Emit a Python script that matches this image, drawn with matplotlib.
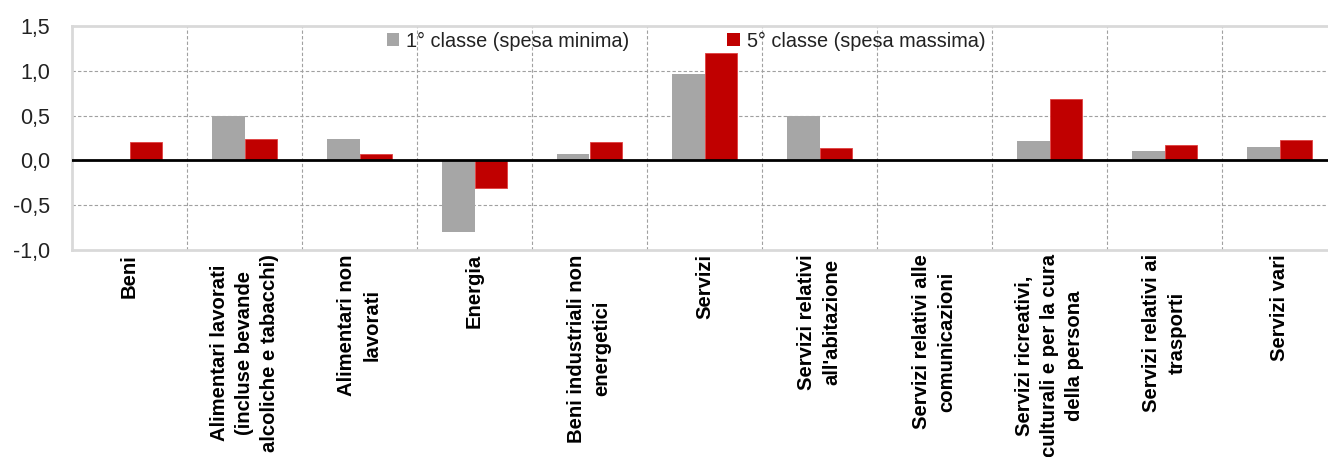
import matplotlib
matplotlib.use("Agg")
import matplotlib.pyplot as plt
import numpy as np
from matplotlib.patches import Patch

categories = [
    "Beni",
    "Alimentari lavorati\n(incluse bevande\nalcoliche e tabacchi)",
    "Alimentari non\nlavorati",
    "Energia",
    "Beni industriali non\nenergetici",
    "Servizi",
    "Servizi relativi\nall'abitazione",
    "Servizi relativi alle\ncomunicazioni",
    "Servizi ricreativi,\nculturali e per la cura\ndella persona",
    "Servizi relativi ai\ntrasporti",
    "Servizi vari",
]
classe1 = [0.0, 0.50, 0.24, -0.80, 0.07, 0.96, 0.50, 0.0, 0.22, 0.11, 0.15]
classe5 = [0.20, 0.24, 0.07, -0.31, 0.21, 1.20, 0.14, 0.0, 0.68, 0.17, 0.23]
series_names = ["1° classe (spesa minima)", "5° classe (spesa massima)"]
yticks = [-1.0, -0.5, 0.0, 0.5, 1.0, 1.5]
ytick_labels = ["-1,0", "-0,5", "0,0", "0,5", "1,0", "1,5"]

GRAY = "#a6a6a6"
RED = "#c00000"
fam = ["Liberation Sans", "DejaVu Sans"]

fig = plt.figure(figsize=(13.28, 4.57), dpi=100)
ax = fig.add_axes([72 / 1328, 1 - 250 / 457, (1337 - 72) / 1328, (250 - 26) / 457])

x = np.arange(len(categories))
w = 0.285
ax.bar(x - w / 2, classe1, width=w, color=GRAY, zorder=3)
ax.bar(x + w / 2, classe5, width=w, color=RED, edgecolor="#e04040", linewidth=0.6, zorder=3)
ax.axhline(0, color="black", lw=2, zorder=4)

ax.set_xlim(-0.5, len(categories) - 0.5)
ax.set_ylim(-1.0, 1.5)
ax.set_yticks(yticks)
ax.set_yticklabels(ytick_labels, family=fam, fontsize=15.5, color="#222222")
ax.tick_params(axis="y", length=0, pad=16)

# grid lines
for b in np.arange(0.5, len(categories) - 0.5, 1.0):
    ax.axvline(b, color="#a0a0a0", lw=0.8, ls=(0, (3, 2)), zorder=1)
for yv in yticks[1:-1]:
    if yv != 0:
        ax.axhline(yv, color="#a0a0a0", lw=0.8, ls=(0, (3, 2)), zorder=1)

ax.set_xticks(x)
ax.set_xticklabels(categories, rotation=90, ha="center", va="top", multialignment="center",
                   family=fam, fontweight="bold", fontsize=14.6, linespacing=1.42)
ax.tick_params(axis="x", length=0, pad=3)

for s in ax.spines.values():
    s.set_color("#d9d9d9")
    s.set_linewidth(2)

handles = [Patch(facecolor=GRAY, edgecolor="none"), Patch(facecolor=RED, edgecolor="none")]
leg = fig.legend(handles, series_names, ncol=2, loc="center",
                 bbox_to_anchor=(686 / 1328, 1 - 41 / 457), frameon=False,
                 prop={"family": fam, "size": 14.3},
                 handlelength=0.65, handleheight=0.65, handletextpad=0.35,
                 columnspacing=4.9, borderpad=0)
for t in leg.get_texts():
    t.set_color("#222222")

fig.savefig("out.png", dpi=100)
